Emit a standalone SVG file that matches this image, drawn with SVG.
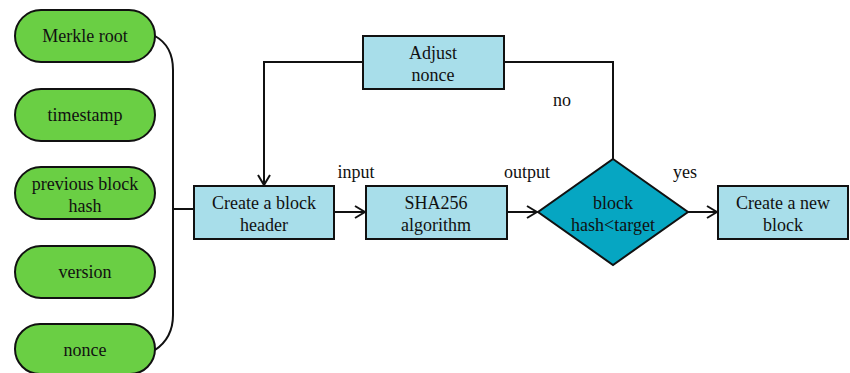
<svg xmlns="http://www.w3.org/2000/svg" width="850" height="373" viewBox="0 0 850 373">
<style>
text{font-family:'Liberation Serif','DejaVu Serif',serif;font-size:18px;fill:#111;text-anchor:middle}
.pill{fill:#6ACF44;stroke:#111;stroke-width:2}
.box{fill:#A8DEEA;stroke:#111;stroke-width:2}
.dia{fill:#06A6C2;stroke:#111;stroke-width:2}
.ln{fill:none;stroke:#111;stroke-width:2}
</style>
<defs>
<marker id="arr" markerWidth="12" markerHeight="14" refX="11" refY="7" orient="auto" markerUnits="userSpaceOnUse">
<path d="M1,1 L11,7 L1,13" fill="none" stroke="#111" stroke-width="2"/>
</marker>
</defs>
<g font-family="Liberation Serif, DejaVu Serif, serif">
<g id="n-merkle"><rect class="pill" x="15" y="10" width="140" height="52" rx="26"/><text x="85" y="42">Merkle root</text></g>
<g id="n-timestamp"><rect class="pill" x="15" y="89" width="140" height="52" rx="26"/><text x="85" y="121">timestamp</text></g>
<g id="n-prev"><rect class="pill" x="15" y="167" width="140" height="52" rx="26"/><text x="85" y="190">previous block</text><text x="85" y="212">hash</text></g>
<g id="n-version"><rect class="pill" x="15" y="246" width="140" height="52" rx="26"/><text x="85" y="278">version</text></g>
<g id="n-nonce"><rect class="pill" x="15" y="324" width="140" height="50" rx="25"/><text x="85" y="356">nonce</text></g>
<g id="n-header"><rect class="box" x="194" y="186" width="140" height="53"/><text x="264" y="209">Create a block</text><text x="264" y="231">header</text></g>
<g id="n-sha"><rect class="box" x="366" y="186" width="141" height="53"/><text x="436" y="209">SHA256</text><text x="436" y="231">algorithm</text></g>
<g id="n-adjust"><rect class="box" x="363" y="36" width="141" height="53"/><text x="433" y="59">Adjust</text><text x="433" y="81">nonce</text></g>
<g id="n-check"><polygon class="dia" points="613,159 688,212 613,265 538,212"/><text x="613" y="209">block</text><text x="613" y="231">hash&lt;target</text></g>
<g id="n-new"><rect class="box" x="718" y="186" width="130" height="53"/><text x="783" y="209">Create a new</text><text x="783" y="231">block</text></g>
<g id="connectors">
<path class="ln" d="M155,36 Q173,46 173,70 L173,315 Q173,338 155,350"/>
<path class="ln" d="M173,209 L193,209"/>
<path class="ln" d="M334,212 L365,212" marker-end="url(#arr)"/>
<path class="ln" d="M507,212 L537,212" marker-end="url(#arr)"/>
<path class="ln" d="M688,212 L717,212" marker-end="url(#arr)"/>
<path class="ln" d="M613,159 L613,62 L504,62"/>
<path class="ln" d="M363,62 L264,62 L264,185" marker-end="url(#arr)"/>
</g>
<g id="labels">
<text x="356" y="178">input</text>
<text x="527" y="178">output</text>
<text x="562" y="106">no</text>
<text x="685" y="178">yes</text>
</g>
</g>
</svg>
